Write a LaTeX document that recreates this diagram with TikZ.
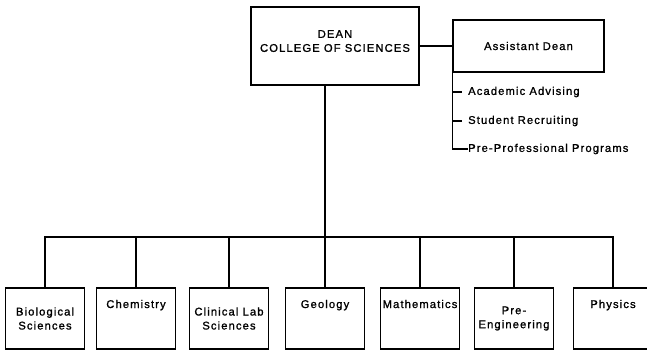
\documentclass[tikz,border=0pt]{standalone}
\usepackage{fontspec}
\setmainfont{Liberation Sans}[LetterSpace=10,FakeBold=1.2]
\usepackage{tikz}

\begin{document}
\begin{tikzpicture}[x=1pt,y=-1pt,
    box/.style={draw,line width=1.3pt,inner sep=0pt,font=\fontsize{11.2}{14}\selectfont},
    dept/.style={box,minimum width=79pt,minimum height=61pt,align=center},
    deptone/.style={box,minimum width=79pt,minimum height=61pt,text height=8pt,text depth=29pt},
    item/.style={anchor=west,inner sep=0pt,font=\fontsize{11.2}{14}\selectfont},
    conn/.style={line width=1.3pt}]
  \useasboundingbox (0,0) rectangle (647,351);
  \clip (0,0) rectangle (647,351);
  % dean and assistant
  \node[box,minimum width=168pt,minimum height=78pt,align=center,text depth=10pt] (dean) at (335,46) {DEAN\\COLLEGE OF SCIENCES};
  \node[box,minimum width=151pt,minimum height=52pt] (asst) at (528.5,46) {Assistant Dean};
  \node[item] (adv) at (468,92) {Academic Advising};
  \node[item] (rec) at (468,121) {Student Recruiting};
  \node[item] (pre) at (468,149) {Pre-Professional Programs};
  % departments
  \node[dept] (bio) at (45,318.5) {Biological\\Sciences};
  \node[deptone] (chem) at (136,318.5) {Chemistry};
  \node[dept] (clin) at (229,318.5) {Clinical Lab\\Sciences};
  \node[deptone] (geo) at (325,318.5) {Geology};
  \node[deptone] (math) at (420,318.5) {Mathematics};
  \node[dept] (eng) at (514,318.5) {Pre-\\Engineering};
  \node[deptone] (phys) at (613,318.5) {Physics};
  \coordinate (bus) at (0,237);
  % lines
  \draw[conn] (dean.east |- asst.west) -- (asst.west);
  \draw[conn] (asst.south west) |- (pre.west);
  \draw[conn] (asst.south west |- adv.west) -- ++(10,0);
  \draw[conn] (asst.south west |- rec.west) -- ++(10,0);
  \draw[conn] (dean.south -| geo.north) -- (geo.north);
  \draw[conn] (bio.north) -- (bio.north |- bus) -- (phys.north |- bus) -- (phys.north);
  \foreach \d in {chem,clin,math,eng}
    \draw[conn] (\d.north) -- (\d.north |- bus);
\end{tikzpicture}
\end{document}
